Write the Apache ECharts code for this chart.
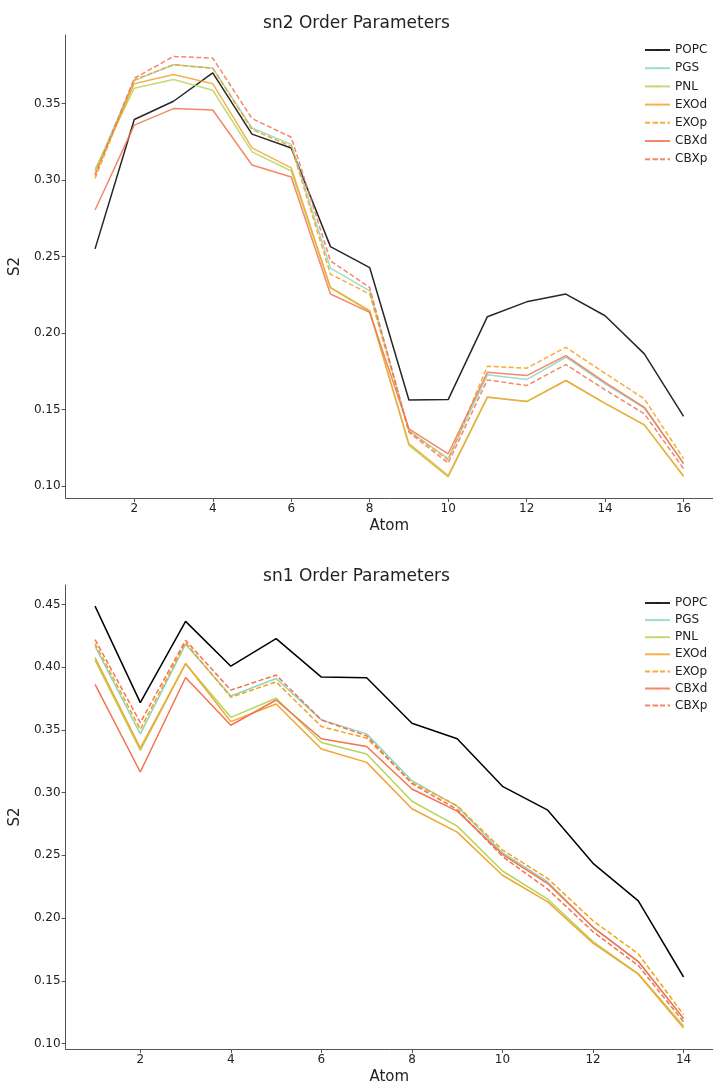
<!DOCTYPE html>
<html>
<head>
<meta charset="utf-8">
<script src="https://cdn.jsdelivr.net/npm/echarts@6/dist/echarts.min.js"></script>
<style>html,body{margin:0;padding:0;background:#fff}#c{width:713px;height:1086px}</style>
</head>
<body>
<div id="c"></div>
<script>
// sn2 (top) data, atoms 1..16
const sn2Atoms = [1,2,3,4,5,6,7,8,9,10,11,12,13,14,15,16];
const sn2_POPC = [0.255,0.3396,0.3515,0.370,0.330,0.321,0.2565,0.2428,0.1563,0.1565,0.2107,0.2204,0.2255,0.2113,0.1864,0.1455];
const sn2_PGS  = [0.306,0.365,0.3754,0.3732,0.334,0.3233,0.2424,0.2276,0.136,0.1179,0.1727,0.1696,0.1842,0.1668,0.151,0.115];
const sn2_PNL  = [0.307,0.360,0.3657,0.3587,0.3184,0.3059,0.2295,0.2140,0.1266,0.1060,0.1580,0.1552,0.1690,0.1540,0.1400,0.1062];
const sn2_EXOd = [0.304,0.363,0.369,0.363,0.321,0.308,0.2298,0.2146,0.1277,0.1068,0.1582,0.1552,0.1690,0.1540,0.1400,0.1066];
const sn2_EXOp = [0.301,0.3655,0.3754,0.373,0.333,0.322,0.2385,0.2255,0.1360,0.1170,0.1783,0.1770,0.1907,0.1737,0.157,0.1179];
const sn2_CBXd = [0.2804,0.3359,0.3467,0.3458,0.3098,0.302,0.2255,0.2135,0.1374,0.1211,0.1744,0.1722,0.1853,0.1678,0.1515,0.1147];
const sn2_CBXp = [0.303,0.3665,0.3808,0.3797,0.3402,0.328,0.2472,0.2298,0.1352,0.1150,0.1694,0.1657,0.1794,0.1629,0.1472,0.1114];

// sn1 (bottom) data, atoms 1..14
const sn1Atoms = [1,2,3,4,5,6,7,8,9,10,11,12,13,14];
const sn1_POPC = [0.4487,0.3717,0.4365,0.4008,0.4228,0.3921,0.3915,0.3553,0.3429,0.305,0.286,0.2436,0.2137,0.153];
const sn1_PGS  = [0.4167,0.3468,0.4183,0.377,0.391,0.358,0.3468,0.3095,0.289,0.2521,0.2288,0.1926,0.1653,0.120];
const sn1_PNL  = [0.4056,0.3336,0.4027,0.360,0.3752,0.340,0.3307,0.2931,0.2733,0.2375,0.215,0.1812,0.1555,0.114];
const sn1_EXOd = [0.4077,0.3355,0.4029,0.3566,0.3706,0.3347,0.3241,0.2871,0.2685,0.2341,0.2129,0.1799,0.1552,0.1124];
const sn1_EXOp = [0.4188,0.3505,0.4196,0.376,0.3883,0.3526,0.3434,0.308,0.2895,0.2542,0.2315,0.1978,0.1714,0.123];
const sn1_CBXd = [0.3863,0.3164,0.3918,0.3537,0.3738,0.3429,0.3368,0.3029,0.2852,0.2508,0.2275,0.1926,0.1653,0.1198];
const sn1_CBXp = [0.422,0.3558,0.4214,0.3817,0.3937,0.3579,0.3452,0.3071,0.2865,0.249,0.223,0.1891,0.1621,0.1172];

const seriesNames = ['POPC','PGS','PNL','EXOd','EXOp','CBXd','CBXp'];
const sn2Ticks = [2,4,6,8,10,12,14,16];
const sn1Ticks = [2,4,6,8,10,12,14];
const sn2YTicks = [0.10,0.15,0.20,0.25,0.30,0.35];
const sn1YTicks = [0.10,0.15,0.20,0.25,0.30,0.35,0.40,0.45];

const colors = {POPC:'#000000',PGS:'#8fd5c4',PNL:'#b7d55a',EXOd:'#f2a531',EXOp:'#f7a010',CBXd:'#f5724e',CBXp:'#f5724e'};
const dashed = {EXOp:true,CBXp:true};

const FONT = 'DejaVu Sans';
const sn2Data = [sn2_POPC,sn2_PGS,sn2_PNL,sn2_EXOd,sn2_EXOp,sn2_CBXd,sn2_CBXp];
const sn1Data = [sn1_POPC,sn1_PGS,sn1_PNL,sn1_EXOd,sn1_EXOp,sn1_CBXd,sn1_CBXp];

function mkSeries(atoms, data, idx, opacity, suffix){
  return seriesNames.map((n,i)=>({
    name: n, id: n+suffix, type:'line', xAxisIndex: idx, yAxisIndex: idx,
    data: atoms.map((a,j)=>[a,data[i][j]]),
    symbol:'none', silent:true, animation:false,
    lineStyle:{color:colors[n], width:1.5, opacity:opacity, type: dashed[n]?[5,2.5]:'solid'},
    itemStyle:{color:colors[n], opacity:opacity}
  }));
}

function xAx(idx,min,max,ticks){
  return {type:'value', gridIndex:idx, min:min, max:max, name:'Atom', nameLocation:'middle', nameGap:21,
    nameTextStyle:{fontFamily:FONT,fontSize:15,color:'#222'},
    splitLine:{show:false},
    axisLine:{lineStyle:{color:'#555',width:1}},
    axisTick:{show:true,length:4,lineStyle:{color:'#555'},customValues:ticks},
    axisLabel:{fontFamily:FONT,fontSize:12,color:'#222',margin:5,customValues:ticks}};
}
function yAx(idx,min,max,ticks){
  return {type:'value', gridIndex:idx, min:min, max:max, name:'S2', nameLocation:'middle', nameGap:31,
    nameTextStyle:{fontFamily:FONT,fontSize:15,color:'#222'},
    splitLine:{show:false},
    axisLine:{show:true,lineStyle:{color:'#555',width:1}},
    axisTick:{show:true,length:4,lineStyle:{color:'#555'},customValues:ticks},
    axisLabel:{fontFamily:FONT,fontSize:12,color:'#222',margin:5,customValues:ticks,formatter:v=>v.toFixed(2)}};
}

function mkLegend(top, gap){
  return {orient:'vertical', left:639, top:top, itemGap:gap, itemWidth:25, itemHeight:2,
    selectedMode:false, data:seriesNames.slice(),
    textStyle:{fontFamily:FONT,fontSize:12,color:'#222'}};
}

const chart = echarts.init(document.getElementById('c'), null, {renderer:'canvas'});
chart.setOption({
  animation:false,
  backgroundColor:'#fff',
  title:[
    {text:'sn2 Order Parameters', left:'center', top:10, textStyle:{fontFamily:FONT,fontSize:17,fontWeight:'normal',color:'#222'}},
    {text:'sn1 Order Parameters', left:'center', top:563, textStyle:{fontFamily:FONT,fontSize:17,fontWeight:'normal',color:'#222'}}
  ],
  legend:[mkLegend(39, 6.2), mkLegend(592, 5.1)],
  grid:[
    {left:62, top:35, width:651, height:463},
    {left:63, top:585, width:650, height:465}
  ],
  xAxis:[xAx(0,0.25,16.75,sn2Ticks), xAx(1,0.35,14.65,sn1Ticks)],
  yAxis:[yAx(0,0.0922,0.3948,sn2YTicks), yAx(1,0.0956,0.4655,sn1YTicks)],
  series:[].concat(mkSeries(sn2Atoms,sn2Data,0,0.85,'_sn2'), mkSeries(sn1Atoms,sn1Data,1,1,'_sn1'))
});
</script>
</body>
</html>
